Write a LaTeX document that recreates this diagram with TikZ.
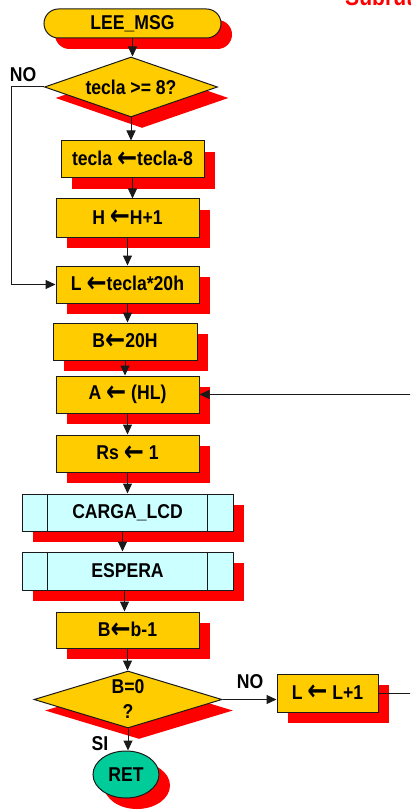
\documentclass[tikz,border=0pt]{standalone}
\usepackage{fontspec}
\usepackage{graphicx}
\setmainfont{Liberation Sans}[FakeStretch=0.88]
\newfontfamily\arrowfont{DejaVu Sans}
\usetikzlibrary{shapes.geometric,shadows,arrows.meta}
% heavy left arrow used in the assignment boxes
\newcommand{\lar}{\raisebox{-1.5pt}{\scalebox{1.2}[1.45]{\arrowfont\bfseries ←}}}
\definecolor{boxyellow}{HTML}{FFCC00}
\definecolor{subcyan}{HTML}{CCFFFF}
\definecolor{retgreen}{HTML}{00CC99}
\definecolor{edge}{HTML}{1A1A1A}
\tikzset{
  redshadow/.style={drop shadow={shadow xshift=11pt,shadow yshift=-11pt,fill=red,opacity=1}},
  base/.style={draw=edge,line width=1pt,redshadow,inner sep=0pt,
    font=\fontsize{20}{25}\selectfont\bfseries},
  proc/.style={base,rectangle,fill=boxyellow,minimum width=143pt,minimum height=37pt},
  subr/.style={base,rectangle,fill=subcyan,minimum width=211pt,minimum height=37pt},
  term/.style={base,rectangle,rounded corners=14.5pt,fill=boxyellow,minimum width=177pt,minimum height=29pt},
  decision/.style={base,diamond,aspect=2.9,fill=boxyellow,align=center},
  endnode/.style={base,ellipse,fill=retgreen,minimum width=66pt,minimum height=47pt},
  lbl/.style={font=\fontsize{20}{25}\selectfont\bfseries,inner sep=0pt},
  arr/.style={draw=edge,line width=1pt,-{Triangle[length=10pt,width=9pt]}},
  wire/.style={draw=edge,line width=1pt}
}
\begin{document}
\begin{tikzpicture}[x=1pt,y=-1pt]
\clip (0,0) rectangle (410,810);
\useasboundingbox (0,0) rectangle (410,810);

% title running off the page
\node[anchor=base west,inner sep=0pt,text=red,font=\fontsize{24}{28}\selectfont\bfseries] (title) at (345,5.5) {Subrutina};

% flow nodes
\node[term] (inicio) at (132.5,23.5) {LEE\_MSG};
\node[decision,minimum width=173pt,minimum height=60pt] (d1) at (131,87) {tecla >= 8?};
\node[proc] (t8) at (132.5,159.5) {tecla \lar tecla-8};
\node[proc,minimum height=38pt] (hh) at (127.5,218) {H \lar H+1};
\node[proc] (lt) at (127.5,284.5) {L \lar tecla*20h};
\node[proc,minimum width=144pt] (b20) at (125,341.5) {B\lar 20H};
\node[proc] (ahl) at (127.5,394.5) {A \lar{} (HL)};
\node[proc] (rs) at (127.5,453.5) {Rs \lar{} 1};
\node[subr] (carga) at (127.5,512.5) {CARGA\_LCD};
\node[subr,minimum height=38pt] (espera) at (127.5,571) {ESPERA};
\node[proc,minimum height=36pt] (bb) at (127.5,630) {B\lar b-1};
\node[decision,minimum width=188pt,minimum height=57pt] (d2) at (128,699.5) {B=0\\?};
\node[proc,minimum width=101pt,minimum height=38pt] (lmas) at (327.5,693) {L \lar{} L+1};
\node[endnode] (ret) at (126,774.5) {RET};

% side bars of the subroutine boxes
\foreach \n in {carga,espera}{
  \draw[wire] ([xshift=26pt]\n.north west) -- ([xshift=26pt]\n.south west);
  \draw[wire] ([xshift=-26pt]\n.north east) -- ([xshift=-26pt]\n.south east);
}

% labels
\node[lbl] (no1) at (23,75) {NO};
\node[lbl] (no2) at (250,682) {NO};
\node[lbl] (si) at (100,744) {SI};

% connectors
\draw[arr] (inicio.south) -- (inicio.south |- d1.north);
\draw[arr] (d1.south) -- (d1.south |- t8.north);
\draw[arr] (t8.south) -- (t8.south |- hh.north);
\draw[arr] (hh.south) -- (hh.south |- lt.north);
\draw[arr] (lt.south) -- (lt.south |- b20.north);
\draw[arr] (b20.south) -- (b20.south |- ahl.north);
\draw[arr] (ahl.south) -- (ahl.south |- rs.north);
\draw[arr] (rs.south) -- (rs.south |- carga.north);
\draw[arr] ([xshift=-5pt]carga.south) -- ([xshift=-5pt]carga.south |- espera.north);
\draw[arr] ([xshift=-3pt]espera.south) -- ([xshift=-3pt]espera.south |- bb.north);
\draw[arr] (bb.south) -- (bb.south |- d2.north);
\draw[arr] (d2.south) -- (d2.south |- ret.north);
\draw[arr] (d2.east) -- (d2.east -| lmas.west);
\draw[arr] (d1.west) -- ++(-33,0) |- (lt.west);
\draw[arr] (lmas.east) -- ++(50,0) |- (ahl.east);
\end{tikzpicture}
\end{document}
